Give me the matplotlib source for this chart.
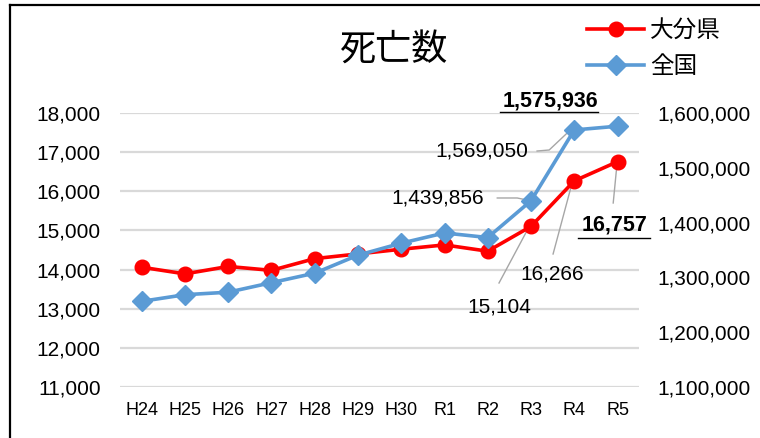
import matplotlib
matplotlib.use("Agg")
import matplotlib.pyplot as plt
from matplotlib.lines import Line2D
from matplotlib.ticker import FuncFormatter

plt.rcParams["font.family"] = ["Liberation Sans", "Noto Sans CJK JP", "DejaVu Sans"]

years = ["H24", "H25", "H26", "H27", "H28", "H29", "H30", "R1", "R2", "R3", "R4", "R5"]
oita = [14060, 13890, 14080, 13980, 14280, 14400, 14520, 14630, 14470, 15104, 16266, 16757]
japan = [1256359, 1268436, 1273004, 1290444, 1307748, 1340567, 1362470, 1381093,
         1372755, 1439856, 1569050, 1575936]
left_ticks = list(range(11000, 18001, 1000))
right_ticks = list(range(1100000, 1600001, 100000))

RED = "#FF0000"; BLUE = "#5B9BD5"; GRID = "#D9D9D9"; LEAD = "#A6A6A6"
CJK = ["Noto Sans CJK JP", "DejaVu Sans"]

fig = plt.figure(figsize=(7.6, 4.38), dpi=100)
ax = fig.add_axes([0.158, 0.1164, 0.683, 0.6256])
ax2 = ax.twinx()
x = list(range(len(years)))

ax.plot(x, oita, color=RED, lw=2.6, marker="o", ms=10.5, zorder=3)
ax2.plot(x, japan, color=BLUE, lw=2.6, marker="D", ms=10, zorder=3)

ax.set_xlim(-0.5, len(years) - 0.5)
ax.set_ylim(11000, 18000)
ax2.set_ylim(1100000, 1600000)
ax.set_yticks(left_ticks)
ax2.set_yticks(right_ticks)
fmt = FuncFormatter(lambda v, p: f"{v:,.0f}")
ax.yaxis.set_major_formatter(fmt)
ax2.yaxis.set_major_formatter(fmt)
ax.set_xticks(x)
ax.set_xticklabels(years)
ax.grid(axis="y", color=GRID, lw=1.6)
ax.set_axisbelow(True)
for a in (ax, ax2):
    for s in a.spines.values():
        s.set_visible(False)
    a.tick_params(length=0, labelsize=15)
ax.tick_params(axis="y", pad=14)
ax2.tick_params(axis="y", pad=13)
ax.tick_params(axis="x", pad=11, labelsize=13)

# data labels with leader lines (left-axis data coordinates)
def lead(pts):
    ax.plot([p[0] for p in pts], [p[1] for p in pts], color=LEAD, lw=1, zorder=2, clip_on=False)

ax.text(9.44, 18306, f"{japan[11]:,}", ha="center", va="center", fontsize=15.5, fontweight="bold")
ax.plot([8.29, 10.56], [18025, 18025], color="black", lw=1, clip_on=False)

ax.text(8.94, 17029, f"{japan[10]:,}", ha="right", va="center", fontsize=15)
lead([(9.14, 17029), (9.42, 17055), (9.91, 17566)])

ax.text(7.92, 15829, f"{japan[9]:,}", ha="right", va="center", fontsize=15)
lead([(8.22, 15829), (8.68, 15829), (8.91, 15777)])

ax.text(8.27, 13045, f"{oita[9]:,}", ha="center", va="center", fontsize=15)
lead([(8.26, 13657), (8.94, 15062)])

ax.text(9.49, 13886, f"{oita[10]:,}", ha="center", va="center", fontsize=15)
lead([(9.51, 14398), (9.95, 16212)])

ax.text(10.93, 15138, f"{oita[11]:,}", ha="center", va="center", fontsize=15.5, fontweight="bold")
ax.plot([10.09, 11.76], [14806, 14806], color="black", lw=1, clip_on=False)
lead([(10.90, 15701), (10.99, 16722)])

fig.text(0.518, 0.884, "死亡数", ha="center", va="center", fontsize=26, family=CJK)

handles = [Line2D([], [], color=RED, lw=2.6, marker="o", ms=10.5),
           Line2D([], [], color=BLUE, lw=2.6, marker="D", ms=10)]
fig.legend(handles, ["大分県", "全国"], loc="upper left", bbox_to_anchor=(0.745, 1.005),
           frameon=False, prop={"family": CJK, "size": 17}, handlelength=2.4,
           handletextpad=0.25, labelspacing=0.55)

# outer frame (top and left edges visible)
fig.add_artist(Line2D([0.013, 1.0], [0.9886, 0.9886], color="black", lw=1.6, transform=fig.transFigure))
fig.add_artist(Line2D([0.013, 0.013], [0.0, 0.9886], color="black", lw=1.6, transform=fig.transFigure))

fig.savefig("out.png", dpi=100)
